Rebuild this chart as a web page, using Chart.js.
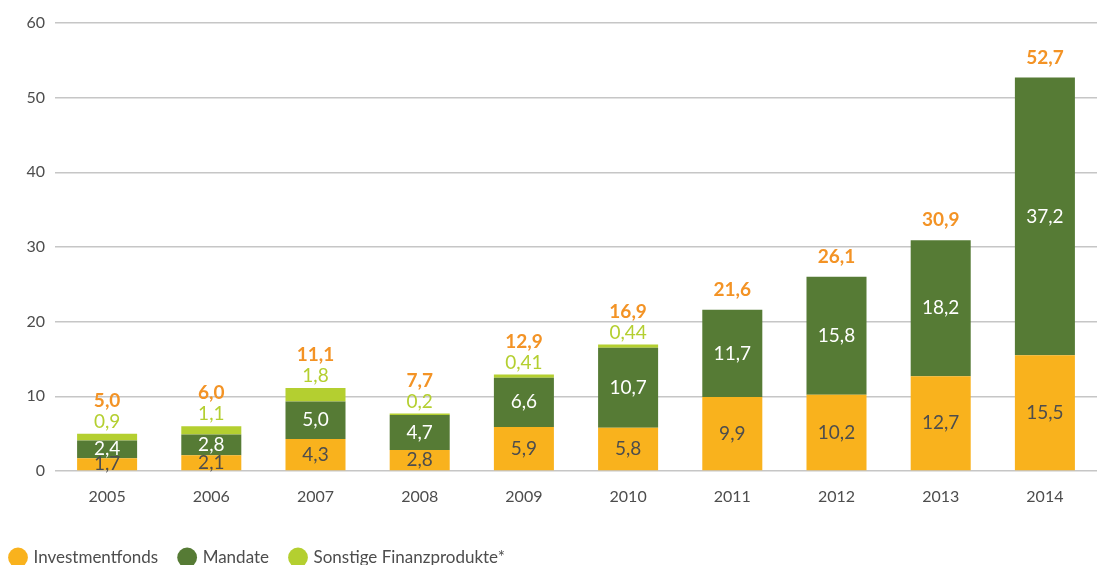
<!DOCTYPE html>
<html lang="de">
	<head>
		<meta charset="utf-8">
		<title>Investmentfonds, Mandate, Sonstige Finanzprodukte</title>
		<style>
			html, body { margin: 0; padding: 0; background: #fff; overflow: hidden; }
			#wrap { width: 1106px; height: 565px; overflow: hidden; }
		</style>
	</head>
	<body>
		<div id="wrap">
			<canvas id="myChart" width="1106" height="576"></canvas>
		</div>

		<script src="https://cdn.jsdelivr.net/npm/chart.js@4.4.1/dist/chart.umd.min.js"></script>
		<script>
			// values (Mrd. Euro)
			var years = ["2005", "2006", "2007", "2008", "2009", "2010", "2011", "2012", "2013", "2014"];
			var fonds = [1.7, 2.1, 4.3, 2.8, 5.9, 5.8, 9.9, 10.2, 12.7, 15.5];
			var mandate = [2.4, 2.8, 5.0, 4.7, 6.6, 10.7, 11.7, 15.8, 18.2, 37.2];
			var sonstige = [0.9, 1.1, 1.8, 0.2, 0.41, 0.44, null, null, null, null];
			var totals = [5.0, 6.0, 11.1, 7.7, 12.9, 16.9, 21.6, 26.1, 30.9, 52.7];
			var yTicks = [0, 10, 20, 30, 40, 50, 60];

			var cFonds = '#f9b21d';
			var cMandate = '#567b35';
			var cSonstige = '#b4cf30';
			var cTotal = '#f39325';
			var cText = '#4d4d4d';
			var fontFam = 'Lato, "Open Sans", sans-serif';

			function fmt(v) {
				var d = Math.abs(v * 10 - Math.round(v * 10)) < 1e-6 ? 1 : 2;
				return v.toFixed(d).replace('.', ',');
			}

			// labels inside and above the bars
			var barLabels = {
				id: 'barLabels',
				afterDatasetsDraw: function(chart) {
					var ctx = chart.ctx;
					ctx.save();
					ctx.textAlign = 'center';
					ctx.textBaseline = 'middle';
					var mF = chart.getDatasetMeta(0), mM = chart.getDatasetMeta(1), mS = chart.getDatasetMeta(2);
					years.forEach(function(y, i) {
						ctx.font = '19px ' + fontFam;
						var e = mF.data[i];
						ctx.fillStyle = cText;
						ctx.fillText(fmt(fonds[i]), e.x, (e.y + e.base) / 2);
						e = mM.data[i];
						ctx.fillStyle = '#fff';
						ctx.fillText(fmt(mandate[i]), e.x, (e.y + e.base) / 2);
						var top = e.y;
						var off = 20;
						if (sonstige[i] != null) {
							e = mS.data[i];
							top = e.y;
							ctx.fillStyle = cSonstige;
							ctx.fillText(fmt(sonstige[i]), e.x, top - 12);
							off = 33;
						}
						ctx.font = 'bold 19px ' + fontFam;
						ctx.fillStyle = cTotal;
						ctx.fillText(fmt(totals[i]), e.x, top - off);
					});
					ctx.restore();
				}
			};

			var chart = new Chart(document.getElementById('myChart').getContext('2d'), {
				type: 'bar',
				data: {
					labels: years,
					datasets: [
						{ label: 'Investmentfonds', data: fonds, backgroundColor: cFonds },
						{ label: 'Mandate', data: mandate, backgroundColor: cMandate },
						{ label: 'Sonstige Finanzprodukte*', data: sonstige, backgroundColor: cSonstige }
					]
				},
				options: {
					responsive: false,
					animation: false,
					devicePixelRatio: 1,
					barPercentage: 0.72,
					categoryPercentage: 0.8,
					// negative left padding so the legend starts near the edge with wide gaps between items
					layout: { padding: { top: 23, right: 9, left: -11, bottom: 0 } },
					plugins: {
						tooltip: { enabled: false },
						legend: {
							position: 'bottom',
							align: 'start',
							labels: {
								usePointStyle: true,
								pointStyle: 'circle',
								boxWidth: 14,
								boxHeight: 14,
								padding: 22,
								color: cText,
								font: { size: 17, family: fontFam }
							}
						}
					},
					scales: {
						x: {
							stacked: true,
							grid: { display: false, drawTicks: false },
							border: { display: false },
							ticks: { color: cText, padding: 16, font: { size: 16, family: fontFam } },
							afterFit: function(s) { s.height = 56; }
						},
						y: {
							stacked: true,
							min: 0,
							max: 60,
							afterBuildTicks: function(s) { s.ticks = yTicks.map(function(v) { return { value: v }; }); },
							grid: { color: '#c6c6c6', lineWidth: 1.5, drawTicks: false },
							border: { display: false },
							ticks: { color: cText, padding: 10, font: { size: 16, family: fontFam } },
							afterFit: function(s) { s.width = 66; }
						}
					}
				},
				plugins: [barLabels]
			});
		</script>
	</body>
</html>
